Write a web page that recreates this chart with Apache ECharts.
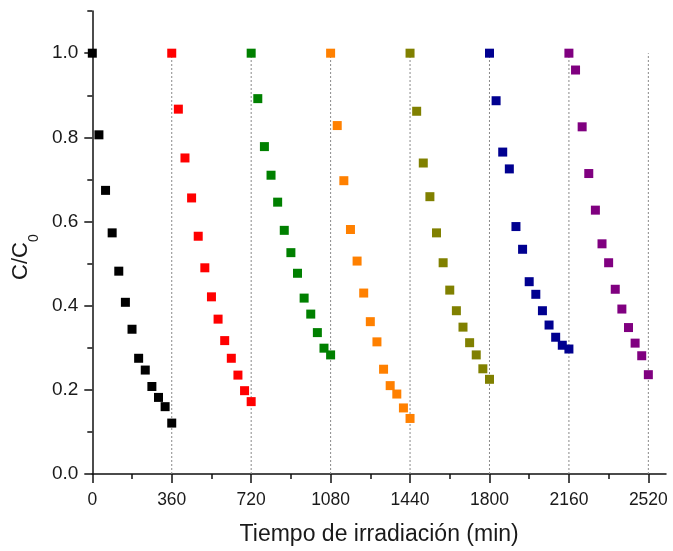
<!DOCTYPE html>
<html>
<head>
<meta charset="utf-8">
<script src="https://cdn.jsdelivr.net/npm/echarts@6/dist/echarts.min.js"></script>
<style>
  html, body { margin: 0; padding: 0; background: #ffffff; }
  #chart { width: 673px; height: 551px; }
</style>
</head>
<body>
<div id="chart"></div>
<script>
// Sampling times within each irradiation cycle (min)
const sampleTimes = [0, 30, 60, 90, 120, 150, 180, 210, 240, 270, 300, 330, 360];

// Start of each consecutive cycle (min)
const cycleStarts = [0, 360, 720, 1080, 1440, 1800, 2160];

// End of each cycle, marked with a dotted vertical line
const cycleEnds = [360, 720, 1080, 1440, 1800, 2160, 2520];

// C/C0 measured in each cycle
const cycle1 = [1.000, 0.806, 0.674, 0.573, 0.482, 0.408, 0.344, 0.275, 0.247, 0.208, 0.182, 0.160, 0.121];
const cycle2 = [1.000, 0.867, 0.751, 0.656, 0.565, 0.490, 0.421, 0.368, 0.317, 0.275, 0.235, 0.198, 0.172];
const cycle3 = [1.000, 0.892, 0.778, 0.710, 0.646, 0.579, 0.526, 0.477, 0.418, 0.380, 0.336, 0.299, 0.283];
const cycle4 = [1.000, 0.828, 0.697, 0.581, 0.506, 0.430, 0.362, 0.314, 0.249, 0.210, 0.190, 0.157, 0.132];
const cycle5 = [1.000, 0.862, 0.739, 0.659, 0.573, 0.502, 0.437, 0.388, 0.349, 0.312, 0.283, 0.250, 0.225];
const cycle6 = [1.000, 0.887, 0.765, 0.725, 0.588, 0.534, 0.457, 0.427, 0.388, 0.354, 0.325, 0.306, 0.297];
const cycle7 = [1.000, 0.960, 0.825, 0.714, 0.627, 0.547, 0.502, 0.439, 0.392, 0.348, 0.311, 0.281, 0.236];

const cycles = [cycle1, cycle2, cycle3, cycle4, cycle5, cycle6, cycle7];
const cycleColors = ['#000000', '#ff0000', '#008000', '#ff8000', '#808000', '#000090', '#800080'];

// Axis tick values
const xMajorTicks = [0, 360, 720, 1080, 1440, 1800, 2160, 2520];
const xMinorTicks = [180, 540, 900, 1260, 1620, 1980, 2340];
const yMajorTicks = [0, 0.2, 0.4, 0.6, 0.8, 1.0];
const yMinorTicks = [0.1, 0.3, 0.5, 0.7, 0.9, 1.1];

const FONT = '"Liberation Sans", Arial, Helvetica, sans-serif';
const INK = '#1a1a1a';
const AXIS_INK = '#111111';
const X_MAX = 2600;
const Y_MAX = 1.1;

const chart = echarts.init(document.getElementById('chart'), null, { renderer: 'canvas' });

const scatterSeries = cycles.map((vals, i) => ({
  type: 'scatter',
  name: 'ciclo ' + (i + 1),
  xAxisIndex: 0,
  yAxisIndex: 0,
  symbol: 'rect',
  symbolSize: 9,
  itemStyle: { color: cycleColors[i], opacity: 1 },
  z: 4,
  data: vals.map((v, j) => [cycleStarts[i] + sampleTimes[j], v])
}));

const dividerSeries = cycleEnds.map((t) => ({
  type: 'line',
  xAxisIndex: 0,
  yAxisIndex: 0,
  silent: true,
  symbol: 'none',
  z: 1,
  lineStyle: { color: '#8a8a8a', width: 1, type: [2, 2] },
  data: [[t, 0], [t, 1]]
}));

chart.setOption({
  animation: false,
  backgroundColor: '#ffffff',
  grid: { left: 92.3, right: 7, top: 11.1, bottom: 75.7, containLabel: false },
  xAxis: [
    {
      // main time axis: line, labels and major ticks
      type: 'value',
      gridIndex: 0,
      min: 0,
      max: X_MAX,
      interval: 360,
      position: 'bottom',
      axisLine: { show: true, onZero: false, lineStyle: { color: AXIS_INK, width: 1.5 } },
      axisTick: { show: true, inside: false, length: 9, customValues: xMajorTicks,
        lineStyle: { color: AXIS_INK, width: 1.5 } },
      axisLabel: { customValues: xMajorTicks, margin: 17, color: INK, fontSize: 17.5, fontFamily: FONT,
        formatter: (v) => String(v) },
      splitLine: { show: false },
      name: 'Tiempo de irradiación (min)',
      nameLocation: 'middle',
      nameGap: 49,
      nameTextStyle: { color: INK, fontSize: 23, fontFamily: FONT }
    },
    {
      // short ticks halfway between the labelled values
      type: 'value',
      gridIndex: 0,
      min: 0,
      max: X_MAX,
      interval: 180,
      position: 'bottom',
      offset: 0,
      axisLine: { show: false, onZero: false },
      axisTick: { show: true, inside: false, length: 5, customValues: xMinorTicks,
        lineStyle: { color: AXIS_INK, width: 1.5 } },
      axisLabel: { show: false },
      splitLine: { show: false }
    }
  ],
  yAxis: [
    {
      type: 'value',
      gridIndex: 0,
      min: 0,
      max: Y_MAX,
      interval: 0.2,
      position: 'left',
      axisLine: { show: true, onZero: false, lineStyle: { color: AXIS_INK, width: 1.5 } },
      axisTick: { show: true, inside: false, length: 8, customValues: yMajorTicks,
        lineStyle: { color: AXIS_INK, width: 1.5 } },
      axisLabel: { customValues: yMajorTicks, margin: 14, color: INK, fontSize: 19, fontFamily: FONT,
        formatter: (v) => v.toFixed(1) },
      splitLine: { show: false },
      name: '{m|C/C}{s|0}',
      nameLocation: 'middle',
      nameGap: 50,
      nameRotate: 90,
      nameTextStyle: {
        color: INK,
        fontFamily: FONT,
        padding: [0, 29, 0, 0],
        rich: {
          m: { fontSize: 22, fontFamily: FONT, color: INK, lineHeight: 31, verticalAlign: 'top' },
          s: { fontSize: 14, fontFamily: FONT, color: INK, lineHeight: 31, verticalAlign: 'bottom' }
        }
      }
    },
    {
      // short ticks halfway between the labelled values
      type: 'value',
      gridIndex: 0,
      min: 0,
      max: Y_MAX,
      interval: 0.1,
      position: 'left',
      offset: 0,
      axisLine: { show: false, onZero: false },
      axisTick: { show: true, inside: false, length: 5, customValues: yMinorTicks,
        lineStyle: { color: AXIS_INK, width: 1.5 } },
      axisLabel: { show: false },
      splitLine: { show: false }
    }
  ],
  series: dividerSeries.concat(scatterSeries)
});
</script>
</body>
</html>
